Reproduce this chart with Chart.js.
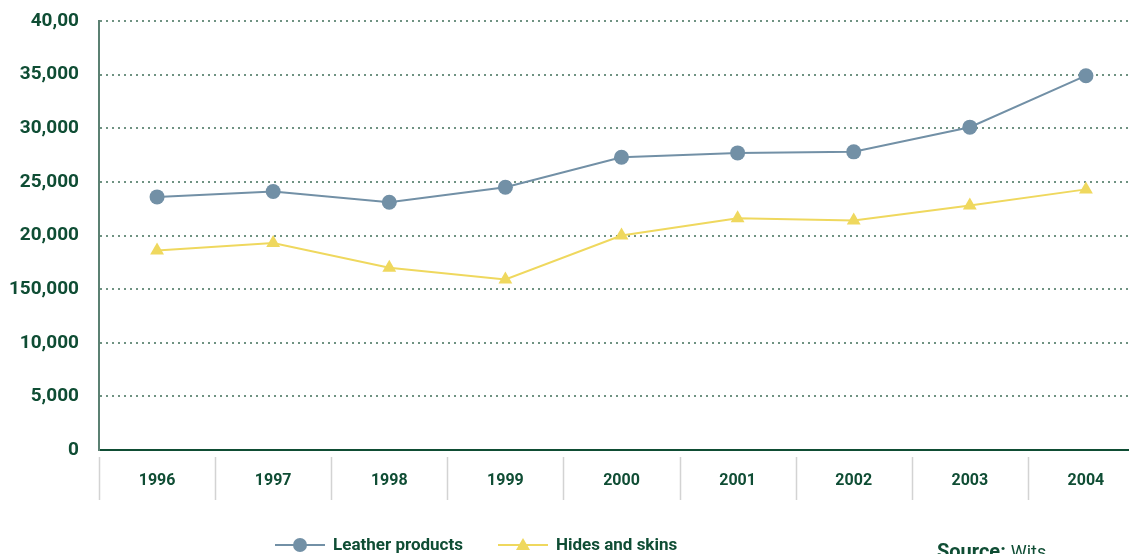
<!DOCTYPE html>
<html>
<head>
<meta charset="utf-8">
<script src="https://cdn.jsdelivr.net/npm/chart.js@4.4.1/dist/chart.umd.min.js"></script>
<style>
  html, body { margin: 0; padding: 0; background: #fff; overflow: hidden; }
  #wrap { width: 1129px; height: 554px; overflow: hidden; position: relative; }
  #box { width: 1152px; height: 554px; }
</style>
</head>
<body>
<div id="wrap"><div id="box"><canvas id="chart"></canvas></div></div>
<script>
// Leather exports, 1996-2004
const years = ['1996', '1997', '1998', '1999', '2000', '2001', '2002', '2003', '2004'];
const leatherProducts = [23600, 24100, 23100, 24500, 27300, 27700, 27800, 30100, 34900];
const hidesAndSkins = [18600, 19300, 17000, 15900, 20000, 21600, 21400, 22800, 24300];
// libellés tels qu'imprimés sur l'axe (y compris les coquilles)
const yTickLabels = ['0', '5,000', '10,000', '150,000', '20,000', '25,000', '30,000', '35,000', '40,00'];

const GREEN = '#0f4d34';
const BLUE = '#7290a6';
const YELLOW = '#efd85e';
const NARROW = '"Liberation Sans Narrow", "Roboto", sans-serif';

// Séparateurs de catégories sous l'axe, légende et source
const decorations = {
    id: 'decorations',
    afterDraw(chart) {
        const { ctx, chartArea, scales: { x } } = chart;
        ctx.save();
        ctx.strokeStyle = '#d3d3d3';
        ctx.lineWidth = 1.5;
        const half = (x.getPixelForValue(1) - x.getPixelForValue(0)) / 2;
        for (let i = 0; i <= years.length; i++) {
            const px = Math.round(x.getPixelForValue(i) - half) + 0.5;
            ctx.beginPath();
            ctx.moveTo(px, chartArea.bottom + 7);
            ctx.lineTo(px, chartArea.bottom + 50);
            ctx.stroke();
        }

        // légende
        const items = [
            { label: 'Leather products', color: BLUE, start: 275, type: 'circle' },
            { label: 'Hides and skins', color: YELLOW, start: 498, type: 'triangle' },
        ];
        const ly = 545;
        items.forEach((item) => {
            ctx.strokeStyle = item.color;
            ctx.fillStyle = item.color;
            ctx.lineWidth = 2;
            ctx.beginPath();
            ctx.moveTo(item.start, ly);
            ctx.lineTo(item.start + 50, ly);
            ctx.stroke();
            ctx.beginPath();
            if (item.type === 'circle') {
                ctx.arc(item.start + 25, ly, 7, 0, Math.PI * 2);
            } else {
                ctx.moveTo(item.start + 25, ly - 7);
                ctx.lineTo(item.start + 32, ly + 5);
                ctx.lineTo(item.start + 18, ly + 5);
                ctx.closePath();
            }
            ctx.fill();
            ctx.fillStyle = GREEN;
            ctx.font = `bold 17px ${NARROW}`;
            ctx.textBaseline = 'middle';
            ctx.fillText(item.label, item.start + 58, ly + 1);
        });

        // source
        ctx.textBaseline = 'alphabetic';
        ctx.fillStyle = GREEN;
        ctx.font = `bold 20px ${NARROW}`;
        ctx.fillText('Source:', 937, 558);
        const w = ctx.measureText('Source: ').width;
        ctx.font = `18px ${NARROW}`;
        ctx.fillText('Wits', 937 + w, 558);
        ctx.restore();
    },
};

new Chart(document.getElementById('chart'), {
    type: 'line',
    data: {
        labels: years,
        datasets: [
            {
                label: 'Leather products',
                data: leatherProducts,
                borderColor: BLUE,
                backgroundColor: BLUE,
                borderWidth: 2,
                pointStyle: 'circle',
                pointRadius: 7.5,
                pointBorderWidth: 0,
                tension: 0,
            },
            {
                label: 'Hides and skins',
                data: hidesAndSkins,
                borderColor: YELLOW,
                backgroundColor: YELLOW,
                borderWidth: 2,
                pointStyle: 'triangle',
                pointRadius: 8,
                pointBorderWidth: 0,
                tension: 0,
            },
        ],
    },
    options: {
        responsive: true,
        maintainAspectRatio: false,
        animation: false,
        layout: { padding: { top: 21, right: 0, bottom: 48, left: 0 } },
        plugins: { legend: { display: false }, tooltip: { enabled: false } },
        scales: {
            x: {
                offset: true,
                grid: { display: false, drawTicks: false },
                border: { display: true, color: GREEN, width: 2 },
                ticks: {
                    color: GREEN,
                    padding: 21,
                    font: { family: 'Roboto', weight: 'bold', size: 16 },
                },
                afterFit(scale) { scale.height = 56; },
            },
            y: {
                min: 0,
                max: 40000,
                grid: { color: '#6f9282', lineWidth: 2, drawTicks: false },
                border: { display: true, color: '#5b8072', width: 2, dash: [2, 4] },
                ticks: {
                    stepSize: 5000,
                    padding: 20,
                    color: GREEN,
                    font: { family: 'Roboto', weight: 'bold', size: 19 },
                    callback: (value, index) => yTickLabels[index],
                },
                afterFit(scale) {
                    scale.width = 99;
                    scale.paddingTop = 0;
                    scale.paddingBottom = 0;
                },
            },
        },
    },
    plugins: [decorations],
});
</script>
</body>
</html>
